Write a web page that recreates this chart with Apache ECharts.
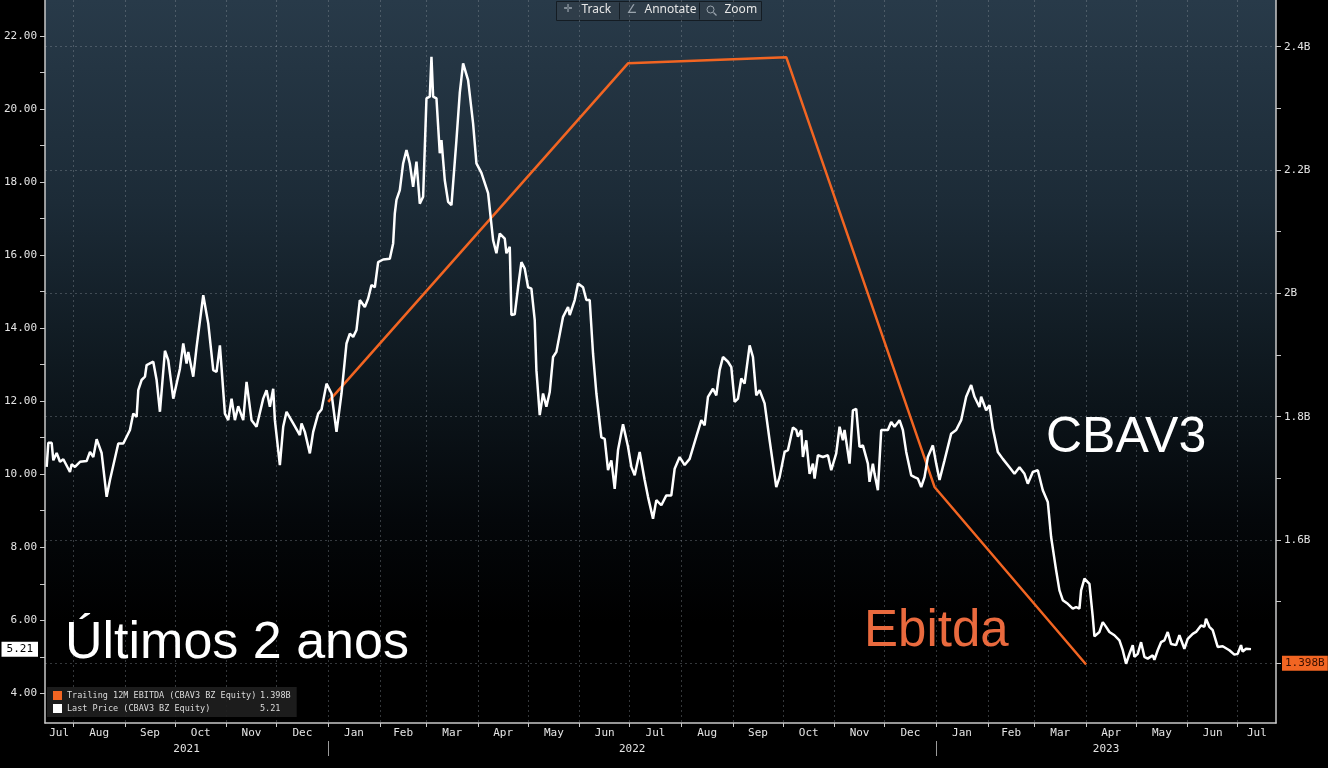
<!DOCTYPE html>
<html>
<head>
<meta charset="utf-8">
<title>CBAV3</title>
<script src="https://cdn.jsdelivr.net/npm/echarts@6/dist/echarts.min.js"></script>
<style>
html, body { margin: 0; padding: 0; background: #000; }
#box1 { width: 1328px; height: 768px; }
</style>
</head>
<body>
<div id="box1"></div>
<script>
// Last Price (CBAV3 BZ Equity)
var dates2021 = ['2021-07-16','2021-07-17','2021-07-19','2021-07-20','2021-07-22','2021-07-24','2021-07-26','2021-07-30','2021-07-31',
  '2021-08-02','2021-08-05','2021-08-09','2021-08-11','2021-08-13','2021-08-15','2021-08-18','2021-08-21','2021-08-23','2021-08-28','2021-08-31',
  '2021-09-04','2021-09-06','2021-09-08','2021-09-09','2021-09-11','2021-09-13','2021-09-14','2021-09-18','2021-09-20','2021-09-22','2021-09-23','2021-09-25','2021-09-27','2021-09-30',
  '2021-10-04','2021-10-06','2021-10-08','2021-10-09','2021-10-12','2021-10-14','2021-10-18','2021-10-21','2021-10-24','2021-10-26','2021-10-28','2021-10-31',
  '2021-11-02','2021-11-04','2021-11-06','2021-11-08','2021-11-11','2021-11-13','2021-11-16','2021-11-19','2021-11-23','2021-11-25','2021-11-27','2021-11-29','2021-11-30',
  '2021-12-03','2021-12-05','2021-12-07','2021-12-11','2021-12-15','2021-12-16','2021-12-18','2021-12-21','2021-12-23','2021-12-26','2021-12-28','2021-12-31'];
var values2021 = [10.20,10.86,10.86,10.38,10.58,10.34,10.41,10.06,10.27,
  10.20,10.34,10.36,10.61,10.47,10.96,10.58,9.38,9.84,10.84,10.84,
  11.21,11.66,11.57,12.30,12.58,12.67,12.99,13.08,12.58,11.71,11.71,13.38,13.12,12.07,
  12.89,13.58,13.03,13.35,12.67,13.48,14.90,14.13,12.85,12.80,13.53,11.66,
  11.48,12.07,11.48,11.86,11.48,12.53,11.48,11.30,12.07,12.30,11.85,12.34,11.48,
  10.25,11.30,11.71,11.39,11.07,11.39,11.16,10.57,11.16,11.66,11.77,12.48];

var dates2022 = ['2022-01-03','2022-01-06','2022-01-09','2022-01-12','2022-01-14','2022-01-16','2022-01-18','2022-01-20','2022-01-23','2022-01-25','2022-01-27','2022-01-29','2022-01-31',
  '2022-02-03','2022-02-07','2022-02-09','2022-02-10','2022-02-11','2022-02-13','2022-02-15','2022-02-17','2022-02-19','2022-02-21','2022-02-23','2022-02-25','2022-02-27',
  '2022-03-01','2022-03-03','2022-03-04','2022-03-05','2022-03-07','2022-03-09','2022-03-10','2022-03-12','2022-03-14','2022-03-16','2022-03-19','2022-03-21','2022-03-23','2022-03-26','2022-03-29','2022-03-31',
  '2022-04-03','2022-04-07','2022-04-10','2022-04-12','2022-04-14','2022-04-17','2022-04-18','2022-04-20','2022-04-21','2022-04-23','2022-04-25','2022-04-27','2022-04-29',
  '2022-05-01','2022-05-03','2022-05-05','2022-05-06','2022-05-08','2022-05-10','2022-05-12','2022-05-14','2022-05-16','2022-05-18','2022-05-22','2022-05-25','2022-05-26','2022-05-29','2022-05-31',
  '2022-06-03','2022-06-05','2022-06-07','2022-06-09','2022-06-11','2022-06-14','2022-06-16','2022-06-18','2022-06-20','2022-06-22','2022-06-24','2022-06-27','2022-06-30',
  '2022-07-02','2022-07-04','2022-07-07','2022-07-10','2022-07-12','2022-07-15','2022-07-17','2022-07-20','2022-07-23','2022-07-26','2022-07-28','2022-07-31',
  '2022-08-03','2022-08-06','2022-08-10','2022-08-13','2022-08-15','2022-08-17','2022-08-20','2022-08-22','2022-08-24','2022-08-26','2022-08-29','2022-08-31',
  '2022-09-02','2022-09-04','2022-09-06','2022-09-08','2022-09-11','2022-09-13','2022-09-15','2022-09-17','2022-09-20','2022-09-23','2022-09-27','2022-09-29',
  '2022-10-02','2022-10-04','2022-10-07','2022-10-09','2022-10-10','2022-10-12','2022-10-13','2022-10-15','2022-10-17','2022-10-19','2022-10-20','2022-10-22','2022-10-25','2022-10-28','2022-10-30',
  '2022-11-02','2022-11-04','2022-11-06','2022-11-07','2022-11-10','2022-11-12','2022-11-14','2022-11-16','2022-11-18','2022-11-21','2022-11-22','2022-11-24','2022-11-25','2022-11-27','2022-11-29',
  '2022-12-03','2022-12-05','2022-12-07','2022-12-10','2022-12-12','2022-12-14','2022-12-17','2022-12-19','2022-12-21','2022-12-23','2022-12-25','2022-12-27','2022-12-30'];
var values2022 = [12.21,11.16,12.21,13.58,13.85,13.76,13.95,14.77,14.58,14.81,15.18,15.12,15.81,
  15.88,15.90,16.32,17.14,17.51,17.78,18.51,18.88,18.51,17.87,18.56,17.41,17.60,
  20.29,20.34,21.43,20.34,20.29,18.79,19.15,18.05,17.46,17.37,19.15,20.44,21.25,20.79,19.60,18.51,
  18.25,17.70,16.41,16.05,16.59,16.45,16.05,16.23,14.36,14.38,15.12,15.81,15.63,
  15.12,15.08,14.22,12.85,11.62,12.21,11.85,12.25,13.21,13.35,14.31,14.58,14.36,14.77,15.22,
  15.12,14.77,14.77,13.30,12.21,11.01,10.97,10.11,10.38,9.60,10.66,11.37,10.75,
  10.20,9.97,10.61,9.84,9.38,8.78,9.29,9.15,9.42,9.42,10.15,10.47,
  10.25,10.42,11.03,11.48,11.34,12.12,12.34,12.16,12.85,13.21,13.08,12.93,
  11.98,12.07,12.62,12.48,13.53,13.21,12.16,12.30,11.94,10.93,9.65,9.92,
  10.61,10.66,11.28,11.21,11.03,11.21,10.47,10.93,10.01,10.29,9.88,10.52,10.47,10.52,10.11,
  10.57,11.30,10.93,11.21,10.29,11.75,11.79,10.75,10.79,10.29,9.79,10.29,10.01,9.56,11.21,
  11.21,11.43,11.30,11.48,11.21,10.61,9.97,9.92,9.88,9.65,9.92,10.47,10.79];

var dates2023 = ['2023-01-01','2023-01-03','2023-01-06','2023-01-10','2023-01-13','2023-01-16','2023-01-19','2023-01-22','2023-01-24','2023-01-27','2023-01-28','2023-01-31',
  '2023-02-02','2023-02-04','2023-02-07','2023-02-10','2023-02-14','2023-02-17','2023-02-20','2023-02-23','2023-02-25','2023-02-28',
  '2023-03-03','2023-03-06','2023-03-09','2023-03-11','2023-03-14','2023-03-16','2023-03-18','2023-03-21','2023-03-24','2023-03-26','2023-03-28','2023-03-29','2023-03-31',
  '2023-04-03','2023-04-05','2023-04-06','2023-04-09','2023-04-11','2023-04-13','2023-04-15','2023-04-18','2023-04-21','2023-04-23','2023-04-25','2023-04-27','2023-04-29','2023-04-30',
  '2023-05-02','2023-05-04','2023-05-06','2023-05-08','2023-05-11','2023-05-12','2023-05-14','2023-05-16','2023-05-18','2023-05-20','2023-05-22','2023-05-25','2023-05-27','2023-05-30',
  '2023-06-01','2023-06-04','2023-06-06','2023-06-09','2023-06-11','2023-06-12','2023-06-14','2023-06-16','2023-06-19','2023-06-22','2023-06-26','2023-06-29',
  '2023-07-01','2023-07-03','2023-07-04','2023-07-06','2023-07-09'];
var values2023 = [10.29,9.84,10.38,11.11,11.21,11.48,12.12,12.44,12.12,11.84,12.12,11.75,
  11.89,11.25,10.61,10.42,10.19,10.01,10.19,10.01,9.74,10.06,
  10.11,9.56,9.24,8.28,7.37,6.82,6.55,6.45,6.32,6.36,6.32,6.82,7.14,
  7.00,6.09,5.56,5.68,5.95,5.82,5.68,5.59,5.45,5.18,4.81,5.08,5.32,5.00,
  5.08,5.40,5.00,4.95,5.04,4.92,5.18,5.40,5.45,5.68,5.35,5.32,5.59,5.22,
  5.49,5.63,5.68,5.86,5.82,6.04,5.82,5.73,5.27,5.29,5.18,5.06,
  5.08,5.32,5.14,5.22,5.21];

// Trailing 12M EBITDA (CBAV3 BZ Equity), in billions
var ebitdaDates = ['2022-01-01', '2022-06-30', '2022-10-03', '2022-12-31', '2023-04-01'];
var ebitdaValues = [1.824, 2.373, 2.383, 1.686, 1.398];

var lastPrice = 5.21;
var lastEbitda = 1.398;

var monthNames = ['Jan','Feb','Mar','Apr','May','Jun','Jul','Aug','Sep','Oct','Nov','Dec'];
var leftTicks = [4,5,6,7,8,9,10,11,12,13,14,15,16,17,18,19,20,21,22];
var leftLabels = [4,6,8,10,12,14,16,18,20,22];
var rightTicks = [1.4,1.5,1.6,1.7,1.8,1.9,2.0,2.1,2.2,2.3,2.4];
var rightLabels = [1.6,1.8,2.0,2.2,2.4];
var gridValues = [1.4,1.6,1.8,2.0,2.2,2.4];

var xMin = new Date(2021, 6, 15).getTime();
var xMax = new Date(2023, 6, 24).getTime();

var monoFont = 'DejaVu Sans Mono';
var axisText = '#e4e4e4';
var axisColor = '#c8c8c8';
var ebitdaColor = '#f26522';

function toTime(s) {
    var p = s.split('-');
    return new Date(+p[0], +p[1] - 1, +p[2]).getTime();
}
function zip(a, b) {
    var out = [];
    for (var i = 0; i < a.length; i++) out.push([toTime(a[i]), b[i]]);
    return out;
}
var priceData = zip(dates2021.concat(dates2022, dates2023), values2021.concat(values2022, values2023));
var ebitdaData = zip(ebitdaDates, ebitdaValues);

// month starts -> ticks, middle of each visible month -> labels
var monthStarts = [];
var monthMids = [];
for (var y = 2021, m = 6; ; m++) {
    if (m > 11) { m = 0; y++; }
    var s = new Date(y, m, 1).getTime();
    if (s > xMax) break;
    var e = new Date(y, m + 1, 1).getTime();
    if (s > xMin) monthStarts.push(s);
    monthMids.push((Math.max(s, xMin) + Math.min(e, xMax)) / 2);
}
var yearStarts = [new Date(2022, 0, 1).getTime(), new Date(2023, 0, 1).getTime()];
var yearMids = [(xMin + yearStarts[0]) / 2, (yearStarts[0] + yearStarts[1]) / 2, (yearStarts[1] + xMax) / 2];

var dom = document.getElementById('box1');
var myChart = echarts.init(dom);
var option = {
    animation: false,
    backgroundColor: '#000',
    title: [
        { text: 'CBAV3', left: 1046, top: 413, padding: 0,
          textStyle: { color: '#fff', fontSize: 50, fontWeight: 'normal', fontFamily: 'Liberation Sans' } },
        { text: 'Ebitda', left: 864, top: 606, padding: 0,
          textStyle: { color: '#ea6a3e', fontSize: 51, fontWeight: 'normal', fontFamily: 'Liberation Sans' } },
        { text: 'Últimos 2 anos', left: 65, top: 618, padding: 0,
          textStyle: { color: '#fff', fontSize: 52, fontWeight: 'normal', fontFamily: 'Liberation Sans' } }
    ],
    legend: {
        orient: 'vertical',
        left: 47,
        top: 687,
        itemWidth: 9,
        itemHeight: 9,
        itemGap: 4,
        icon: 'rect',
        padding: [4, 6, 4, 6],
        backgroundColor: 'rgba(30,30,30,0.92)',
        data: ['Trailing 12M EBITDA (CBAV3 BZ Equity)', 'Last Price (CBAV3 BZ Equity)'],
        formatter: function (name) {
            var v = name.indexOf('EBITDA') >= 0 ? lastEbitda.toFixed(3) + 'B' : lastPrice.toFixed(2);
            return '{n|' + name + '}{v|' + v + '}';
        },
        textStyle: {
            color: '#dcdcdc',
            fontFamily: monoFont,
            fontSize: 8.5,
            rich: {
                n: { width: 193, color: '#dcdcdc', fontFamily: monoFont, fontSize: 8.5 },
                v: { color: '#dcdcdc', fontFamily: monoFont, fontSize: 8.5 }
            }
        }
    },
    grid: {
        left: 45,
        right: 52,
        top: 0,
        bottom: 45,
        show: true,
        borderWidth: 0,
        backgroundColor: new echarts.graphic.LinearGradient(0, 0, 0, 1, [
            { offset: 0, color: '#283a49' },
            { offset: 0.28, color: '#1c2b37' },
            { offset: 0.5, color: '#0f1920' },
            { offset: 0.72, color: '#04070a' },
            { offset: 0.86, color: '#000' },
            { offset: 1, color: '#000' }
        ])
    },
    xAxis: [
        {
            type: 'value',
            min: xMin,
            max: xMax,
            axisLine: { show: true, lineStyle: { color: axisColor, width: 1.5 } },
            axisTick: { show: true, customValues: monthStarts, length: 4, lineStyle: { color: axisColor } },
            axisLabel: {
                customValues: monthMids,
                color: axisText,
                fontFamily: monoFont,
                fontSize: 11,
                margin: 5,
                formatter: function (v) { return monthNames[new Date(v).getMonth()]; }
            },
            splitLine: { show: true, customValues: monthStarts,
                lineStyle: { color: 'rgba(150,158,166,0.35)', type: [2, 3], width: 1 } }
        },
        {
            type: 'value',
            min: xMin,
            max: xMax,
            position: 'bottom',
            offset: 18,
            axisLine: { show: false },
            axisTick: { show: true, customValues: yearStarts, length: 15, lineStyle: { color: '#9a9a9a' } },
            axisLabel: {
                customValues: yearMids,
                color: axisText,
                fontFamily: monoFont,
                fontSize: 11,
                margin: 3,
                formatter: function (v) { return String(new Date(v).getFullYear()); }
            },
            splitLine: { show: false }
        }
    ],
    yAxis: [
        {
            type: 'value',
            position: 'left',
            min: 3.187,
            max: 22.986,
            axisLine: { show: true, lineStyle: { color: axisColor, width: 1.5 } },
            axisTick: { show: true, customValues: leftTicks, length: 5, lineStyle: { color: axisColor } },
            axisLabel: {
                customValues: leftLabels,
                color: axisText,
                fontFamily: monoFont,
                fontSize: 11,
                margin: 8,
                formatter: function (v) { return v.toFixed(2); }
            },
            splitLine: { show: false }
        },
        {
            type: 'value',
            position: 'right',
            min: 1.3032,
            max: 2.4757,
            axisLine: { show: true, lineStyle: { color: axisColor, width: 1.5 } },
            axisTick: { show: true, customValues: rightTicks, length: 5, lineStyle: { color: axisColor } },
            axisLabel: {
                customValues: rightLabels,
                color: axisText,
                fontFamily: monoFont,
                fontSize: 11,
                margin: 8,
                formatter: function (v) { return (Math.abs(v - 2) < 1e-9 ? '2' : v.toFixed(1)) + 'B'; }
            },
            splitLine: { show: false }
        },
        {
            type: 'value',
            position: 'right',
            min: 1.3032,
            max: 2.4757,
            axisLine: { show: false },
            axisTick: { show: false, customValues: gridValues },
            axisLabel: { show: false },
            splitLine: { show: true, customValues: gridValues,
                lineStyle: { color: 'rgba(150,158,166,0.35)', type: [2, 3], width: 1 } }
        }
    ],
    series: [
        {
            name: 'Trailing 12M EBITDA (CBAV3 BZ Equity)',
            type: 'line',
            xAxisIndex: 0,
            yAxisIndex: 1,
            data: ebitdaData,
            showSymbol: false,
            color: ebitdaColor,
            lineStyle: { color: ebitdaColor, width: 2.5 },
            markLine: {
                silent: true,
                symbol: 'none',
                lineStyle: { color: 'rgba(0,0,0,0)' },
                data: [{ yAxis: lastEbitda }],
                label: {
                    position: 'end',
                    distance: 6,
                    formatter: lastEbitda.toFixed(3) + 'B',
                    backgroundColor: ebitdaColor,
                    color: '#3a1000',
                    fontFamily: monoFont,
                    fontSize: 11,
                    padding: [2, 3, 2, 3]
                }
            }
        },
        {
            name: 'Last Price (CBAV3 BZ Equity)',
            type: 'line',
            xAxisIndex: 0,
            yAxisIndex: 0,
            data: priceData,
            showSymbol: false,
            color: '#ffffff',
            lineStyle: { color: '#ffffff', width: 2.5 },
            markLine: {
                silent: true,
                symbol: 'none',
                lineStyle: { color: 'rgba(0,0,0,0)' },
                data: [{ yAxis: lastPrice }],
                label: {
                    position: 'start',
                    distance: 7,
                    formatter: lastPrice.toFixed(2),
                    backgroundColor: '#ffffff',
                    color: '#000',
                    fontFamily: monoFont,
                    fontSize: 11,
                    padding: [2, 5, 2, 5]
                }
            }
        }
    ],
    graphic: [
        {
            type: 'group',
            left: 556,
            top: 0,
            children: [
                { type: 'rect', shape: { x: 0, y: 0, width: 205, height: 19 },
                  style: { fill: '#2f3d49', stroke: '#141c23', lineWidth: 1 } },
                { type: 'line', shape: { x1: 63, y1: 1, x2: 63, y2: 18 }, style: { stroke: '#141c23', lineWidth: 1 } },
                { type: 'line', shape: { x1: 143, y1: 1, x2: 143, y2: 18 }, style: { stroke: '#141c23', lineWidth: 1 } },
                { type: 'text', x: 7, y: 2, style: { text: '✛', fill: '#9aa4ad', font: '11px DejaVu Sans' } },
                { type: 'text', x: 25, y: 2, style: { text: 'Track', fill: '#e6e6e6', font: '12px Noto Sans' } },
                { type: 'text', x: 70, y: 2, style: { text: '∠', fill: '#9aa4ad', font: '12px DejaVu Sans' } },
                { type: 'text', x: 88, y: 2, style: { text: 'Annotate', fill: '#e6e6e6', font: '12px Noto Sans' } },
                { type: 'circle', shape: { cx: 154, cy: 8, r: 3.5 }, style: { fill: 'none', stroke: '#9aa4ad', lineWidth: 1 } },
                { type: 'line', shape: { x1: 157, y1: 11, x2: 160, y2: 14 }, style: { stroke: '#9aa4ad', lineWidth: 1.2 } },
                { type: 'text', x: 168, y: 2, style: { text: 'Zoom', fill: '#e6e6e6', font: '12px Noto Sans' } }
            ]
        }
    ]
};

if (option && typeof option === 'object') {
    myChart.setOption(option, true);
}
</script>
</body>
</html>
